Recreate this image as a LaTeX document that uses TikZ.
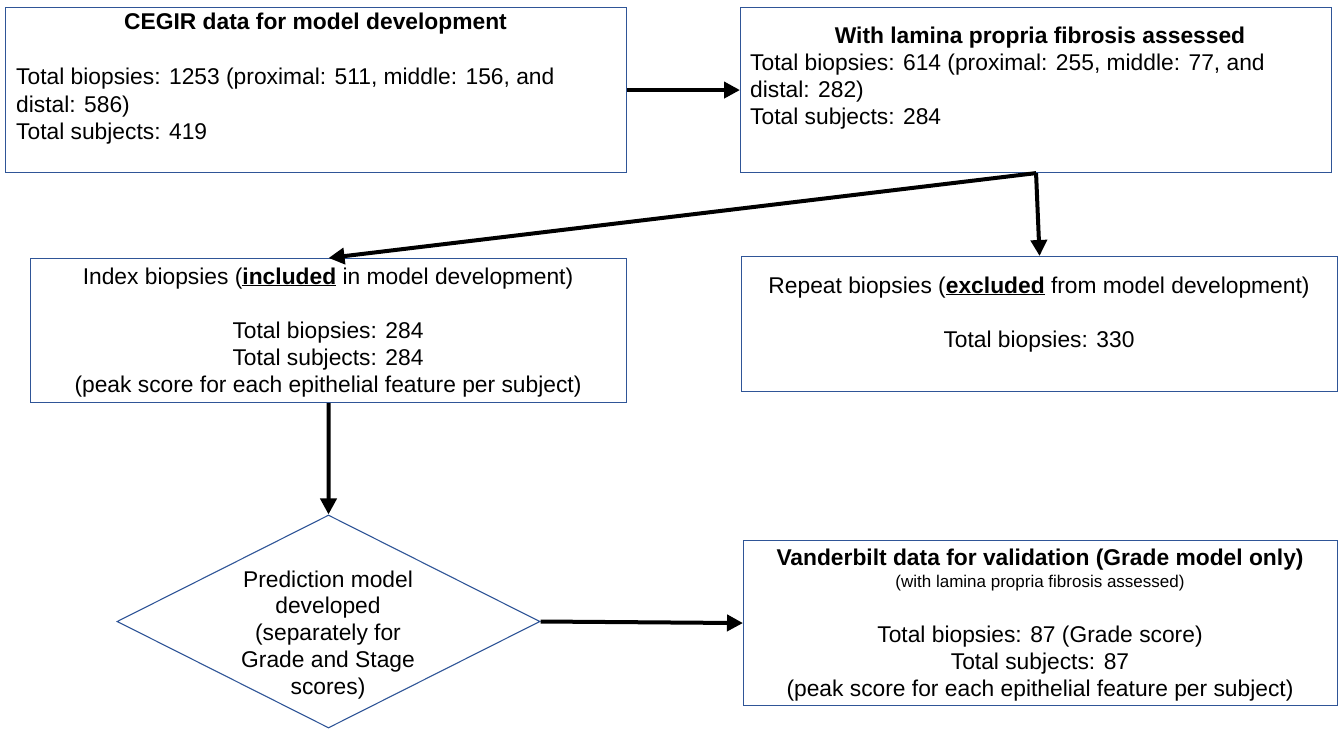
\documentclass[tikz,border=0pt]{standalone}
\usepackage{fontspec}
\setmainfont{Liberation Sans}
\usetikzlibrary{shapes.geometric,arrows.meta}
\definecolor{boxblue}{RGB}{47,85,151}
\begin{document}
\begin{tikzpicture}[x=1pt,y=-1pt,
  box/.style={draw=boxblue,line width=1.1pt,rectangle,inner sep=0pt,anchor=north west},
  txt/.style={anchor=base,inner sep=0pt,font=\fontsize{22.8}{27.5}\selectfont},
  ltxt/.style={txt,anchor=base west},
  small/.style={anchor=base,inner sep=0pt,font=\fontsize{17}{20}\selectfont},
  arr/.style={line width=4pt,-{Triangle[length=16pt,width=16pt]}}]
\useasboundingbox (0,0) rectangle (1341,730);
% boxes
\node[box,minimum width=621pt,minimum height=165pt] (A) at (5,7) {};
\node[box,minimum width=591pt,minimum height=165pt] (B) at (740,7) {};
\node[box,minimum width=596pt,minimum height=144pt] (C) at (30,258) {};
\node[box,minimum width=596pt,minimum height=135pt] (D) at (741,256) {};
\node[box,minimum width=594pt,minimum height=165pt] (E) at (743,540) {};
\node[draw=boxblue,line width=1.1pt,diamond,inner sep=0pt,minimum width=423pt,minimum height=213pt] (F) at (328.5,621.5) {};
% texts A
\node[txt] (A1) at (315.5,30) {\textbf{CEGIR data for model development}};
\node[ltxt] (A2) at (16,85) {Total biopsies: 1253 (proximal: 511, middle: 156, and};
\node[ltxt] (A3) at (16,113) {distal: 586)};
\node[ltxt] (A4) at (16,140) {Total subjects: 419};
% texts B
\node[txt] (B1) at (1040,44) {\textbf{With lamina propria fibrosis assessed}};
\node[ltxt] (B2) at (750,71) {Total biopsies: 614 (proximal: 255, middle: 77, and};
\node[ltxt] (B3) at (750,98) {distal: 282)};
\node[ltxt] (B4) at (750,125) {Total subjects: 284};
% texts C
\node[txt] (C1) at (328,284) {Index biopsies (\underline{\textbf{included}} in model development)};
\node[txt] (C2) at (328,338) {Total biopsies: 284};
\node[txt] (C3) at (328,365) {Total subjects: 284};
\node[txt] (C4) at (328,392) {(peak score for each epithelial feature per subject)};
% texts D
\node[txt] (D1) at (1039,293) {Repeat biopsies (\underline{\textbf{excluded}} from model development)};
\node[txt] (D2) at (1039,347) {Total biopsies: 330};
% texts E
\node[txt] (E1) at (1040,565) {\textbf{Vanderbilt data for validation (Grade model only)}};
\node[small] (E2) at (1040,587) {(with lamina propria fibrosis assessed)};
\node[txt] (E3) at (1040,642) {Total biopsies: 87 (Grade score)};
\node[txt] (E4) at (1040,669) {Total subjects: 87};
\node[txt] (E5) at (1040,696) {(peak score for each epithelial feature per subject)};
% texts F
\node[txt] (F1) at (328,587) {Prediction model};
\node[txt] (F2) at (328,613) {developed};
\node[txt] (F3) at (328,640) {(separately for};
\node[txt] (F4) at (328,667) {Grade and Stage};
\node[txt] (F5) at (328,694) {scores)};
% arrows
\draw[arr] (A.east) -- (B.west);
\draw[arr] (B.south) -- (C.north);
\draw[arr] (B.south) -- (D.north);
\draw[arr] (C.south) -- (F.north);
\draw[arr] (F.east) -- (E.west);
\end{tikzpicture}
\end{document}
